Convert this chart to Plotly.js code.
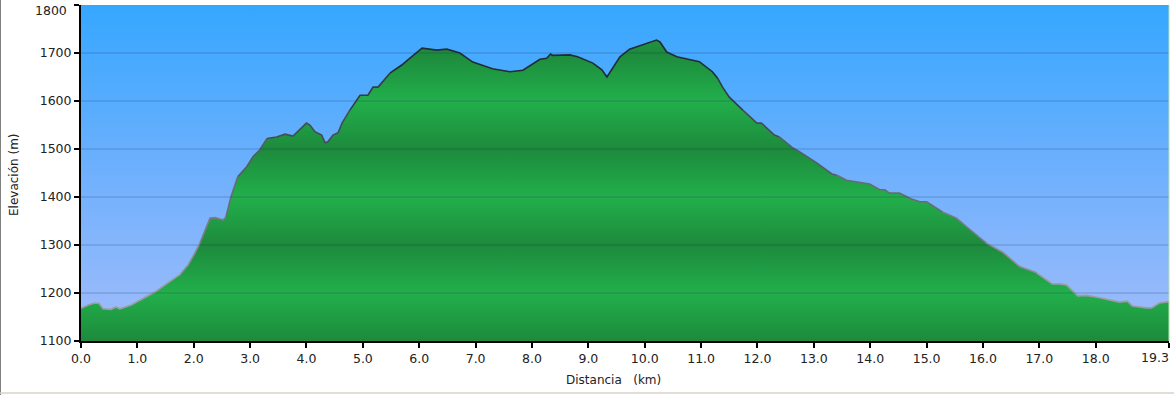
<!DOCTYPE html>
<html>
<head>
<meta charset="utf-8">
<script src="https://cdn.plot.ly/plotly-3.0.1.min.js"></script>
<style>html,body{margin:0;padding:0;background:#fff;}#chart{width:1174px;height:395px;}</style>
</head>
<body>
<div id="chart"></div>
<script>
// Distance (km) and elevation (m) read from the profile
const distanceKm = [0.00,0.15,0.25,0.32,0.39,0.53,0.62,0.69,0.89,1.13,1.31,1.49,1.67,1.77,1.90,2.02,2.11,2.20,2.29,2.38,2.52,2.57,2.66,2.78,2.94,3.05,3.17,3.30,3.47,3.62,3.76,4.00,4.06,4.15,4.27,4.33,4.38,4.47,4.56,4.63,4.77,4.95,5.09,5.18,5.27,5.48,5.69,5.83,5.96,6.05,6.31,6.49,6.72,6.95,7.30,7.61,7.84,8.08,8.14,8.26,8.33,8.37,8.67,8.81,9.08,9.24,9.33,9.56,9.73,10.21,10.27,10.39,10.57,10.97,11.20,11.29,11.38,11.50,11.74,11.99,12.07,12.30,12.39,12.63,12.75,13.05,13.32,13.40,13.58,13.99,14.17,14.26,14.34,14.52,14.73,14.88,15.00,15.28,15.53,15.71,16.06,16.35,16.65,16.95,17.23,17.36,17.48,17.68,17.84,18.07,18.24,18.42,18.56,18.65,18.90,18.99,19.13,19.30];
const elevationM = [1168,1176,1179,1178,1167,1166,1171,1167,1175,1190,1202,1217,1231,1240,1258,1283,1304,1331,1356,1357,1352,1358,1400,1442,1463,1484,1498,1522,1525,1531,1527,1554,1550,1536,1529,1513,1515,1529,1534,1554,1581,1612,1612,1629,1629,1658,1675,1689,1702,1710,1706,1708,1700,1681,1667,1661,1664,1682,1687,1689,1698,1695,1696,1692,1679,1665,1650,1692,1708,1727,1723,1702,1692,1682,1661,1648,1629,1608,1581,1554,1554,1529,1525,1502,1494,1471,1448,1446,1435,1427,1415,1415,1408,1408,1396,1390,1390,1369,1356,1338,1304,1285,1255,1242,1219,1219,1217,1194,1195,1190,1185,1181,1183,1173,1169,1169,1179,1182];

const xTickVals = [0,1,2,3,4,5,6,7,8,9,10,11,12,13,14,15,16,17,18,19.3];
const xTickText = ["0.0","1.0","2.0","3.0","4.0","5.0","6.0","7.0","8.0","9.0","10.0","11.0","12.0","13.0","14.0","15.0","16.0","17.0","18.0","19.3"];
const yTickVals = [1100,1200,1300,1400,1500,1600,1700,1800];
const yTickText = ["1100","1200","1300","1400","1500","1600","1700","1800"];
const xRange = [0, 19.3];
const yRange = [1100, 1800];
const xTitle = 'Distancia\u00a0\u00a0\u00a0(km)';
const yTitle = 'Elevación (m)';

const FONT = "DejaVu Sans, Verdana, sans-serif";
const TICKFONT = {family: FONT, size: 12.5, color: '#222'};

// edge labels are drawn as annotations so they stay inside the canvas
const lastX = xTickVals.length - 1, lastY = yTickVals.length - 1;
const xTickShown = xTickText.map((t, i) => i === lastX ? '' : t);
const yTickShown = yTickText.map((t, i) => i === lastY ? '' : t);

// background gradient trace (plot area)
const bg = {
  x: [xRange[0], xRange[1], xRange[1], xRange[0], xRange[0]],
  y: [yRange[0], yRange[0], yRange[1], yRange[1], yRange[0]],
  mode: 'lines', line: {width: 0}, fill: 'toself',
  fillgradient: {type: 'vertical', start: yRange[0], stop: yRange[1],
    colorscale: [[0, '#a2bdfa'], [0.5, '#6fb0fd'], [1, '#35a7ff']]},
  hoverinfo: 'skip', showlegend: false
};

// banded green fill
const dark = '#1d8a3c', bright = '#22af4b';
const bandScale = yTickVals.map((v, i) => [(v - yRange[0]) / (yRange[1] - yRange[0]), i % 2 === 0 ? dark : bright]);
const area = {
  x: distanceKm, y: elevationM, mode: 'lines', line: {width: 0},
  fill: 'tozeroy',
  fillgradient: {type: 'vertical', start: yRange[0], stop: yRange[1], colorscale: bandScale},
  hoverinfo: 'skip', showlegend: false
};

// outline, shaded from light grey (low) to dark slate (high)
function mix(a, b, t) {
  const pa = [parseInt(a.slice(1,3),16), parseInt(a.slice(3,5),16), parseInt(a.slice(5,7),16)];
  const pb = [parseInt(b.slice(1,3),16), parseInt(b.slice(3,5),16), parseInt(b.slice(5,7),16)];
  return 'rgb(' + pa.map((v, i) => Math.round(v + (pb[i] - v) * t)).join(',') + ')';
}
const nBins = 8, lo = 1170, hi = 1720;
const bins = [];
for (let b = 0; b < nBins; b++) bins.push({x: [], y: [], last: -2});
for (let i = 0; i < distanceKm.length - 1; i++) {
  const mid = (elevationM[i] + elevationM[i+1]) / 2;
  let b = Math.floor((mid - lo) / (hi - lo) * nBins);
  b = Math.max(0, Math.min(nBins - 1, b));
  const bin = bins[b];
  if (bin.last !== i - 1) {
    if (bin.x.length) { bin.x.push(null); bin.y.push(null); }
    bin.x.push(distanceKm[i]); bin.y.push(elevationM[i]);
  }
  bin.x.push(distanceKm[i+1]); bin.y.push(elevationM[i+1]);
  bin.last = i;
}
const lineTraces = bins.map((bin, b) => ({
  x: bin.x, y: bin.y, mode: 'lines', connectgaps: false,
  line: {color: mix('#9c9ca4', '#222c38', b / (nBins - 1)), width: 1.6},
  hoverinfo: 'skip', showlegend: false
}));

const gridShapes = yTickVals.slice(1, -1).map(v => ({
  type: 'line', xref: 'paper', yref: 'y', x0: 0, x1: 1, y0: v, y1: v,
  line: {color: 'rgba(20,45,90,0.28)', width: 1}, layer: 'above'
}));
const frameShapes = [
  {type: 'line', xref: 'paper', yref: 'paper', x0: -81/1088, x1: -81/1088, y0: -54/336, y1: 1 + 5/336,
   line: {color: '#555', width: 1.5}},
  {type: 'line', xref: 'paper', yref: 'paper', x0: -81/1088, x1: 1 + 5/1088, y0: -52/336, y1: -52/336,
   line: {color: '#d8d2c8', width: 1.5}},
  {type: 'line', xref: 'paper', yref: 'paper', x0: 1, x1: 1, y0: 0, y1: 1,
   line: {color: '#b8e0b0', width: 1}}
];

const axisCommon = {
  showgrid: false, zeroline: false, showline: true, linecolor: '#000', linewidth: 2,
  ticks: 'outside', ticklen: 5, tickwidth: 2, tickcolor: '#000',
  minor: {ticks: '', showgrid: false},
  tickfont: TICKFONT,
  fixedrange: true, layer: 'above traces'
};

const layout = {
  width: 1174, height: 395,
  margin: {l: 81, r: 5, t: 5, b: 54},
  paper_bgcolor: '#ffffff', plot_bgcolor: '#ffffff',
  showlegend: false,
  font: {family: FONT, size: 12, color: '#222'},
  xaxis: Object.assign({range: xRange, tickvals: xTickVals, ticktext: xTickShown}, axisCommon),
  yaxis: Object.assign({range: yRange, tickvals: yTickVals, ticktext: yTickShown}, axisCommon),
  annotations: [
    {text: xTitle, xref: 'paper', yref: 'paper', x: (613 - 81) / 1088, y: (341 - 380) / 336,
     xanchor: 'center', yanchor: 'middle', showarrow: false,
     font: {family: FONT, size: 12, color: '#222'}},
    {text: yTitle, xref: 'paper', yref: 'paper', x: (14 - 81) / 1088, y: (341 - 175) / 336,
     xanchor: 'center', yanchor: 'middle', textangle: -90, showarrow: false,
     font: {family: FONT, size: 12, color: '#222'}},
    {text: xTickText[lastX], xref: 'x', yref: 'paper', x: xTickVals[lastX], y: (341 - 357.5) / 336,
     xanchor: 'right', yanchor: 'middle', xshift: 2, showarrow: false, font: TICKFONT},
    {text: yTickText[lastY], xref: 'paper', yref: 'y', x: (69 - 81) / 1088, y: yTickVals[lastY],
     xanchor: 'right', yanchor: 'middle', yshift: -5, showarrow: false, font: TICKFONT}
  ],
  shapes: gridShapes.concat(frameShapes)
};

Plotly.newPlot('chart', [bg, area].concat(lineTraces), layout, {displayModeBar: false, staticPlot: true});
</script>
</body>
</html>
